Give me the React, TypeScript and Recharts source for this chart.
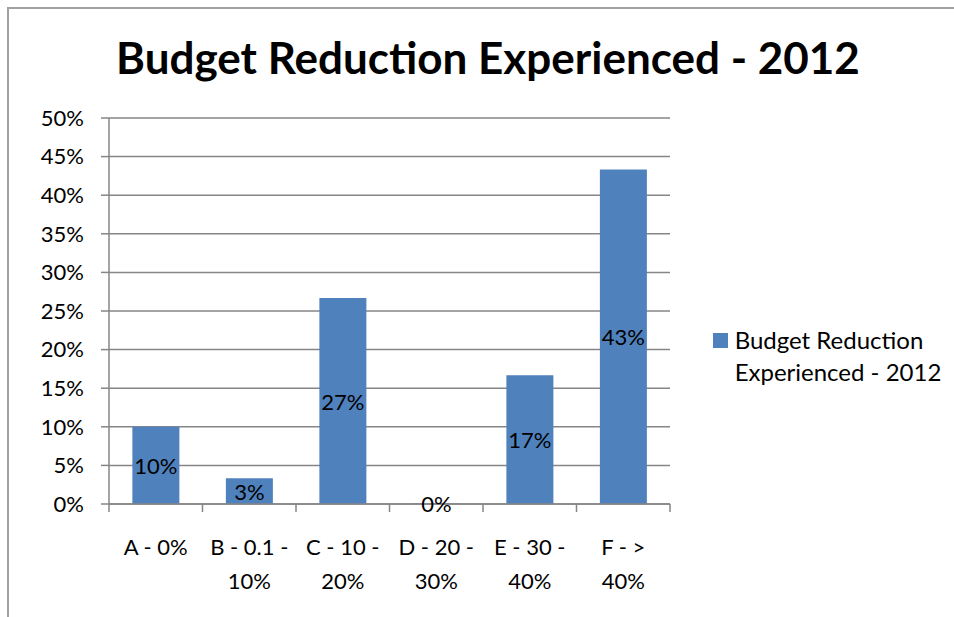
import React from 'react';
import { BarChart, Bar, XAxis, YAxis, CartesianGrid, Legend, LabelList } from 'recharts';

const TITLE = 'Budget Reduction Experienced - 2012';
const SERIES = 'Budget Reduction Experienced - 2012';

// category names, '\n' marks where Excel wrapped the label
const categories = ['A - 0%', 'B - 0.1 -\n10%', 'C - 10 -\n20%', 'D - 20 -\n30%', 'E - 30 -\n40%', 'F - >\n40%'];
const shares = [0.1, 0.0333, 0.2667, 0, 0.1667, 0.4333];
const yTicks = [0, 0.05, 0.1, 0.15, 0.2, 0.25, 0.3, 0.35, 0.4, 0.45, 0.5];

const BAR = '#4F81BD';
const LINE = '#868686';
const FONT = 'Lato, "Open Sans", sans-serif';

const data = categories.map((name, i) => ({ name, value: shares[i] }));

const pct = (v: number) => `${Math.round(Number(v) * 100)}%`;

const CategoryTick = (props: any) => {
  const { x, y, payload, index, visibleTicksCount } = props;
  const half = payload?.offset || 46.75;
  const lines = String(payload.value).split('\n');
  const last = index === visibleTicksCount - 1;
  return (
    <g>
      <line x1={x - half} x2={x - half} y1={y} y2={y + 8} stroke={LINE} strokeWidth={1.5} />
      {last && <line x1={x + half} x2={x + half} y1={y} y2={y + 8} stroke={LINE} strokeWidth={1.5} />}
      {lines.map((ln, i) => (
        <text key={i} x={x} y={y + 51 + i * 34} textAnchor="middle" fill="#000" fontSize={22} fontFamily={FONT}>
          {ln}
        </text>
      ))}
    </g>
  );
};

// data label centred in the bar; also drawn for zero-height bars
const BarValue = (props: any) => {
  const { x, y, width, height, value } = props;
  return (
    <text
      x={Number(x) + Number(width) / 2}
      y={Number(y) + Number(height) / 2 + 3}
      textAnchor="middle"
      dominantBaseline="middle"
      fill="#000"
      fontSize={22}
      fontFamily={FONT}
    >
      {pct(value)}
    </text>
  );
};

const LegendBox = (props: any) => {
  const item = props.payload?.[0];
  if (!item) return null;
  return (
    <div style={{ display: 'flex', alignItems: 'flex-start', fontFamily: FONT, fontSize: 24, color: '#000' }}>
      <div style={{ width: 15, height: 15, background: item.color, marginTop: 9, marginRight: 7 }} />
      <div style={{ width: 225, lineHeight: '32px' }}>{item.value}</div>
    </div>
  );
};

export default function App() {
  return (
    <div style={{ position: 'absolute', left: 0, top: 0, width: 954, height: 617, background: '#fff', fontFamily: FONT }}>
      <div
        style={{
          position: 'absolute', left: 7, top: 7, width: 947, height: 610,
          borderTop: '2px solid #a0a0a0', borderLeft: '2px solid #a0a0a0',
        }}
      />
      <div
        style={{
          position: 'absolute', left: 22, width: 932, top: 35, textAlign: 'center',
          fontSize: 44, fontWeight: 700, lineHeight: 1, color: '#000', whiteSpace: 'nowrap',
        }}
      >
        {TITLE}
      </div>
      <BarChart
        width={954}
        height={617}
        data={data}
        margin={{ top: 118, right: 284, bottom: 13, left: 0 }}
        barCategoryGap="25%"
        style={{ position: 'absolute', left: 0, top: 0 }}
      >
        <CartesianGrid vertical={false} stroke={LINE} strokeWidth={1.5} />
        <Legend
          layout="horizontal"
          align="center"
          verticalAlign="middle"
          wrapperStyle={{ left: 713, top: 324, width: 241 }}
          content={<LegendBox />}
        />
        {/* minPointSize keeps the zero bar (and its 0% label); it sits under the axis line */}
        <Bar dataKey="value" name={SERIES} fill={BAR} minPointSize={0.5} isAnimationActive={false}>
          <LabelList dataKey="value" content={<BarValue />} />
        </Bar>
        <XAxis
          dataKey="name"
          height={100}
          axisLine={{ stroke: LINE, strokeWidth: 1.5 }}
          tickLine={false}
          tickSize={0}
          tickMargin={0}
          interval={0}
          tick={<CategoryTick />}
        />
        <YAxis
          width={109}
          domain={[0, 0.5]}
          ticks={yTicks}
          tickFormatter={pct}
          axisLine={{ stroke: LINE, strokeWidth: 1.5 }}
          tickLine={{ stroke: LINE, strokeWidth: 1.5 }}
          tickSize={8}
          tickMargin={17}
          tick={{ fill: '#000', fontSize: 22, fontFamily: FONT }}
        />
      </BarChart>
    </div>
  );
}
